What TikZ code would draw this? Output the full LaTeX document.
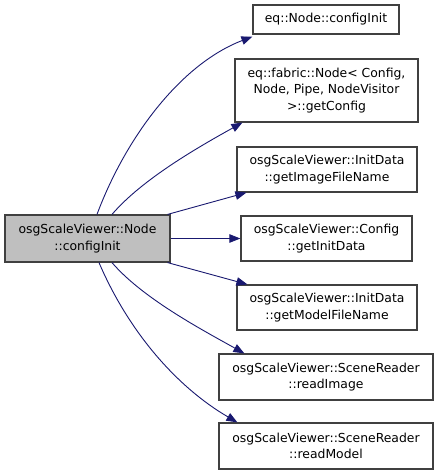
\documentclass[tikz,border=0pt]{standalone}
\usepackage{fontspec}
\setmainfont{DejaVu Sans}
\usepackage{tikz}
\usetikzlibrary{arrows.meta, positioning}
\usepackage{xcolor}
\definecolor{edgeblue}{RGB}{25,25,112}
\definecolor{boxline}{RGB}{64,64,64}
\definecolor{boxgray}{RGB}{191,191,191}

\begin{document}
\begin{tikzpicture}[
    x=1pt, y=-1pt,
    box/.style={draw=boxline, line width=1.2pt, fill=white, inner sep=0pt, align=center,
      font=\fontsize{12.4}{16.6}\selectfont},
    curbox/.style={box, fill=boxgray},
    arr/.style={-{Triangle[length=11pt, width=8.5pt]}, line width=0.9pt, color=edgeblue}
  ]
  \useasboundingbox (0,0) rectangle (440,475);
  \node[curbox, minimum width=165pt, minimum height=47pt] (main) at (87.5,238.5) {osgScaleViewer::Node\\::configInit};
  \node[box, minimum width=146pt, minimum height=29pt] (init) at (326,19.5) {eq::Node::configInit};
  \node[box, minimum width=183pt, minimum height=63pt] (getcfg) at (326.5,90.5) {eq::fabric::Node< Config,\\Node, Pipe, NodeVisitor\\>::getConfig};
  \node[box, minimum width=180pt, minimum height=45pt] (imgname) at (327,169.5) {osgScaleViewer::InitData\\::getImageFileName};
  \node[box, minimum width=171pt, minimum height=45pt] (initdata) at (326.5,238.5) {osgScaleViewer::Config\\::getInitData};
  \node[box, minimum width=180pt, minimum height=45pt] (modelname) at (327,307.5) {osgScaleViewer::InitData\\::getModelFileName};
  \node[box, minimum width=214pt, minimum height=46pt] (readimg) at (326,377) {osgScaleViewer::SceneReader\\::readImage};
  \node[box, minimum width=214pt, minimum height=46pt] (readmodel) at (326,446) {osgScaleViewer::SceneReader\\::readModel};
  % calls from the top of the box
  \draw[arr] ([xshift=9.5pt]main.north) .. controls +(28,-75) and +(-73,28) .. ([yshift=-2pt]init.south west);
  \draw[arr] ([xshift=24.5pt]main.north) .. controls +(30,-35) and +(-45,25) .. ([xshift=8pt]getcfg.south west);
  \draw[arr] ([xshift=-3pt]main.north east) -- ([xshift=10pt]imgname.south west);
  \draw[arr] (main.east) -- (initdata.west);
  % calls from the bottom of the box
  \draw[arr] ([xshift=-3pt]main.south east) -- ([xshift=11pt]modelname.north west);
  \draw[arr] ([xshift=24.5pt]main.south) .. controls +(30,35) and +(-45,-25) .. ([xshift=26pt]readimg.north west);
  \draw[arr] ([xshift=11.5pt]main.south) .. controls +(30,70) and +(-60,-35) .. ([xshift=19pt]readmodel.north west);
\end{tikzpicture}
\end{document}
